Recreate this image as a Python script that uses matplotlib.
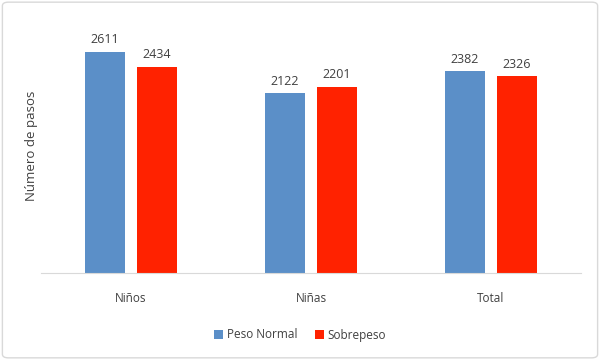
import matplotlib.pyplot as plt
import numpy as np
from matplotlib.patches import FancyBboxPatch

categories = ['Niños', 'Niñas', 'Total']
peso_normal = [2611, 2122, 2382]
sobrepeso = [2434, 2201, 2326]
series_names = ['Peso Normal', 'Sobrepeso']

blue = '#5B8FC8'
red = '#FF2200'
text_color = '#404040'

plt.rcParams['font.family'] = ['Open Sans', 'DejaVu Sans']

fig = plt.figure(figsize=(6, 3.6), dpi=100)
ax = fig.add_axes([41 / 600, 1 - 273 / 360, 540 / 600, 254 / 360])

x = np.arange(len(categories))
w = 0.222
off = 0.144
b1 = ax.bar(x - off, peso_normal, w, color=blue, label=series_names[0])
b2 = ax.bar(x + off, sobrepeso, w, color=red, label=series_names[1])

for bars in (b1, b2):
    for rect in bars:
        h = rect.get_height()
        ax.annotate(f'{h:.0f}', (rect.get_x() + rect.get_width() / 2, h),
                    xytext=(0, 4), textcoords='offset points',
                    ha='center', va='bottom', fontsize=9, color=text_color)

ax.set_xlim(-0.5, 2.5)
ax.set_ylim(0, 3000)
ax.set_yticks([])
ax.set_xticks(x)
ax.set_xticklabels(categories, fontsize=8.5, color=text_color)
ax.tick_params(axis='x', length=0, pad=14)
for s in ['top', 'right', 'left']:
    ax.spines[s].set_visible(False)
ax.spines['bottom'].set_color('#D9D9D9')
ax.set_ylabel('Número de pasos', fontsize=9.5, color=text_color)
# label sits just left of the plot area, like the original
ax.yaxis.set_label_coords(-0.006, 0.5)

fig.legend(loc='center', bbox_to_anchor=(0.5, 1 - 335 / 360),
           ncol=2, frameon=False, fontsize=8.5, handlelength=0.8,
           handleheight=0.8, handletextpad=0.3, columnspacing=1.5,
           labelcolor=text_color)

border = FancyBboxPatch((0.004, 0.006), 0.992, 0.988,
                        boxstyle='round,pad=0,rounding_size=0.01',
                        transform=fig.transFigure, fill=False,
                        edgecolor='#D9D9D9', linewidth=1)
fig.patches.append(border)

fig.savefig('out.png', dpi=100)
